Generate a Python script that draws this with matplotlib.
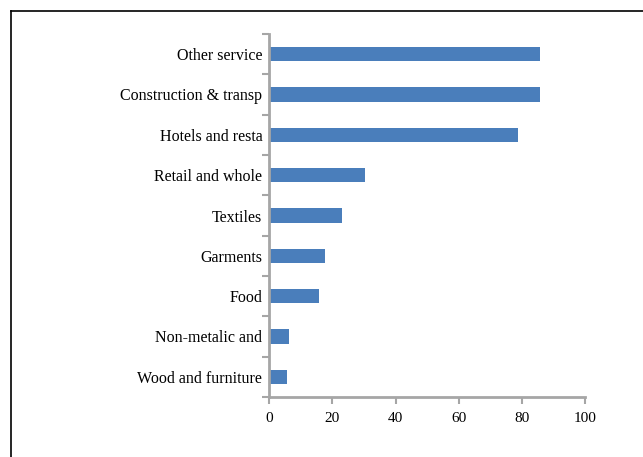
import numpy as np
import matplotlib.pyplot as plt
from matplotlib.lines import Line2D

# sectors, listed top to bottom as shown
sectors = ["Other service", "Construction & transp", "Hotels and resta",
           "Retail and whole", "Textiles", "Garments", "Food",
           "Non-metalic and", "Wood and furniture"]
values = [85.7, 85.7, 78.9, 30.3, 23.1, 17.6, 15.7, 6.2, 5.5]
xticks = [0, 20, 40, 60, 80, 100]

BAR = "#4a7ebb"
AXIS = "#a6a6a6"

plt.rcParams["font.family"] = ["Liberation Serif", "DejaVu Serif"]

fig = plt.figure(figsize=(6.43, 4.57), dpi=100)
W, H = 643, 457
ax = fig.add_axes([269.3 / W, 1 - 397 / H, (585 - 269.3) / W, (397 - 34) / H])

pos = np.arange(len(sectors))[::-1]
ax.barh(pos, values, height=0.36, color=BAR, edgecolor="none")

ax.set_xlim(0, 100)
ax.set_ylim(-0.5, len(sectors) - 0.5)

ax.set_xticks(xticks)
ax.set_xticklabels([str(t) for t in xticks], fontsize=11)
ax.tick_params(axis="x", direction="out", length=5, width=1.5, color=AXIS, pad=6)

# tick marks between categories, labels at the centres
ax.set_yticks(np.arange(-0.5, len(sectors), 1.0))
ax.set_yticklabels([])
ax.tick_params(axis="y", which="major", direction="out", length=5, width=1.5, color=AXIS)
ax.set_yticks(pos, minor=True)
ax.set_yticklabels(sectors, minor=True, fontsize=11.5)
ax.tick_params(axis="y", which="minor", length=0, pad=5)

for side in ("top", "right"):
    ax.spines[side].set_visible(False)
for side in ("left", "bottom"):
    ax.spines[side].set_color(AXIS)
    ax.spines[side].set_linewidth(2)

# outer frame, cut off by the right and bottom edges
fig.add_artist(Line2D([10.5 / W, 10.5 / W], [1 - 10.5 / H, -0.05],
                      transform=fig.transFigure, color="black", lw=1.2))
fig.add_artist(Line2D([10.5 / W, 1.05], [1 - 10.5 / H, 1 - 10.5 / H],
                      transform=fig.transFigure, color="black", lw=1.2))

fig.savefig("out.png", dpi=100)
